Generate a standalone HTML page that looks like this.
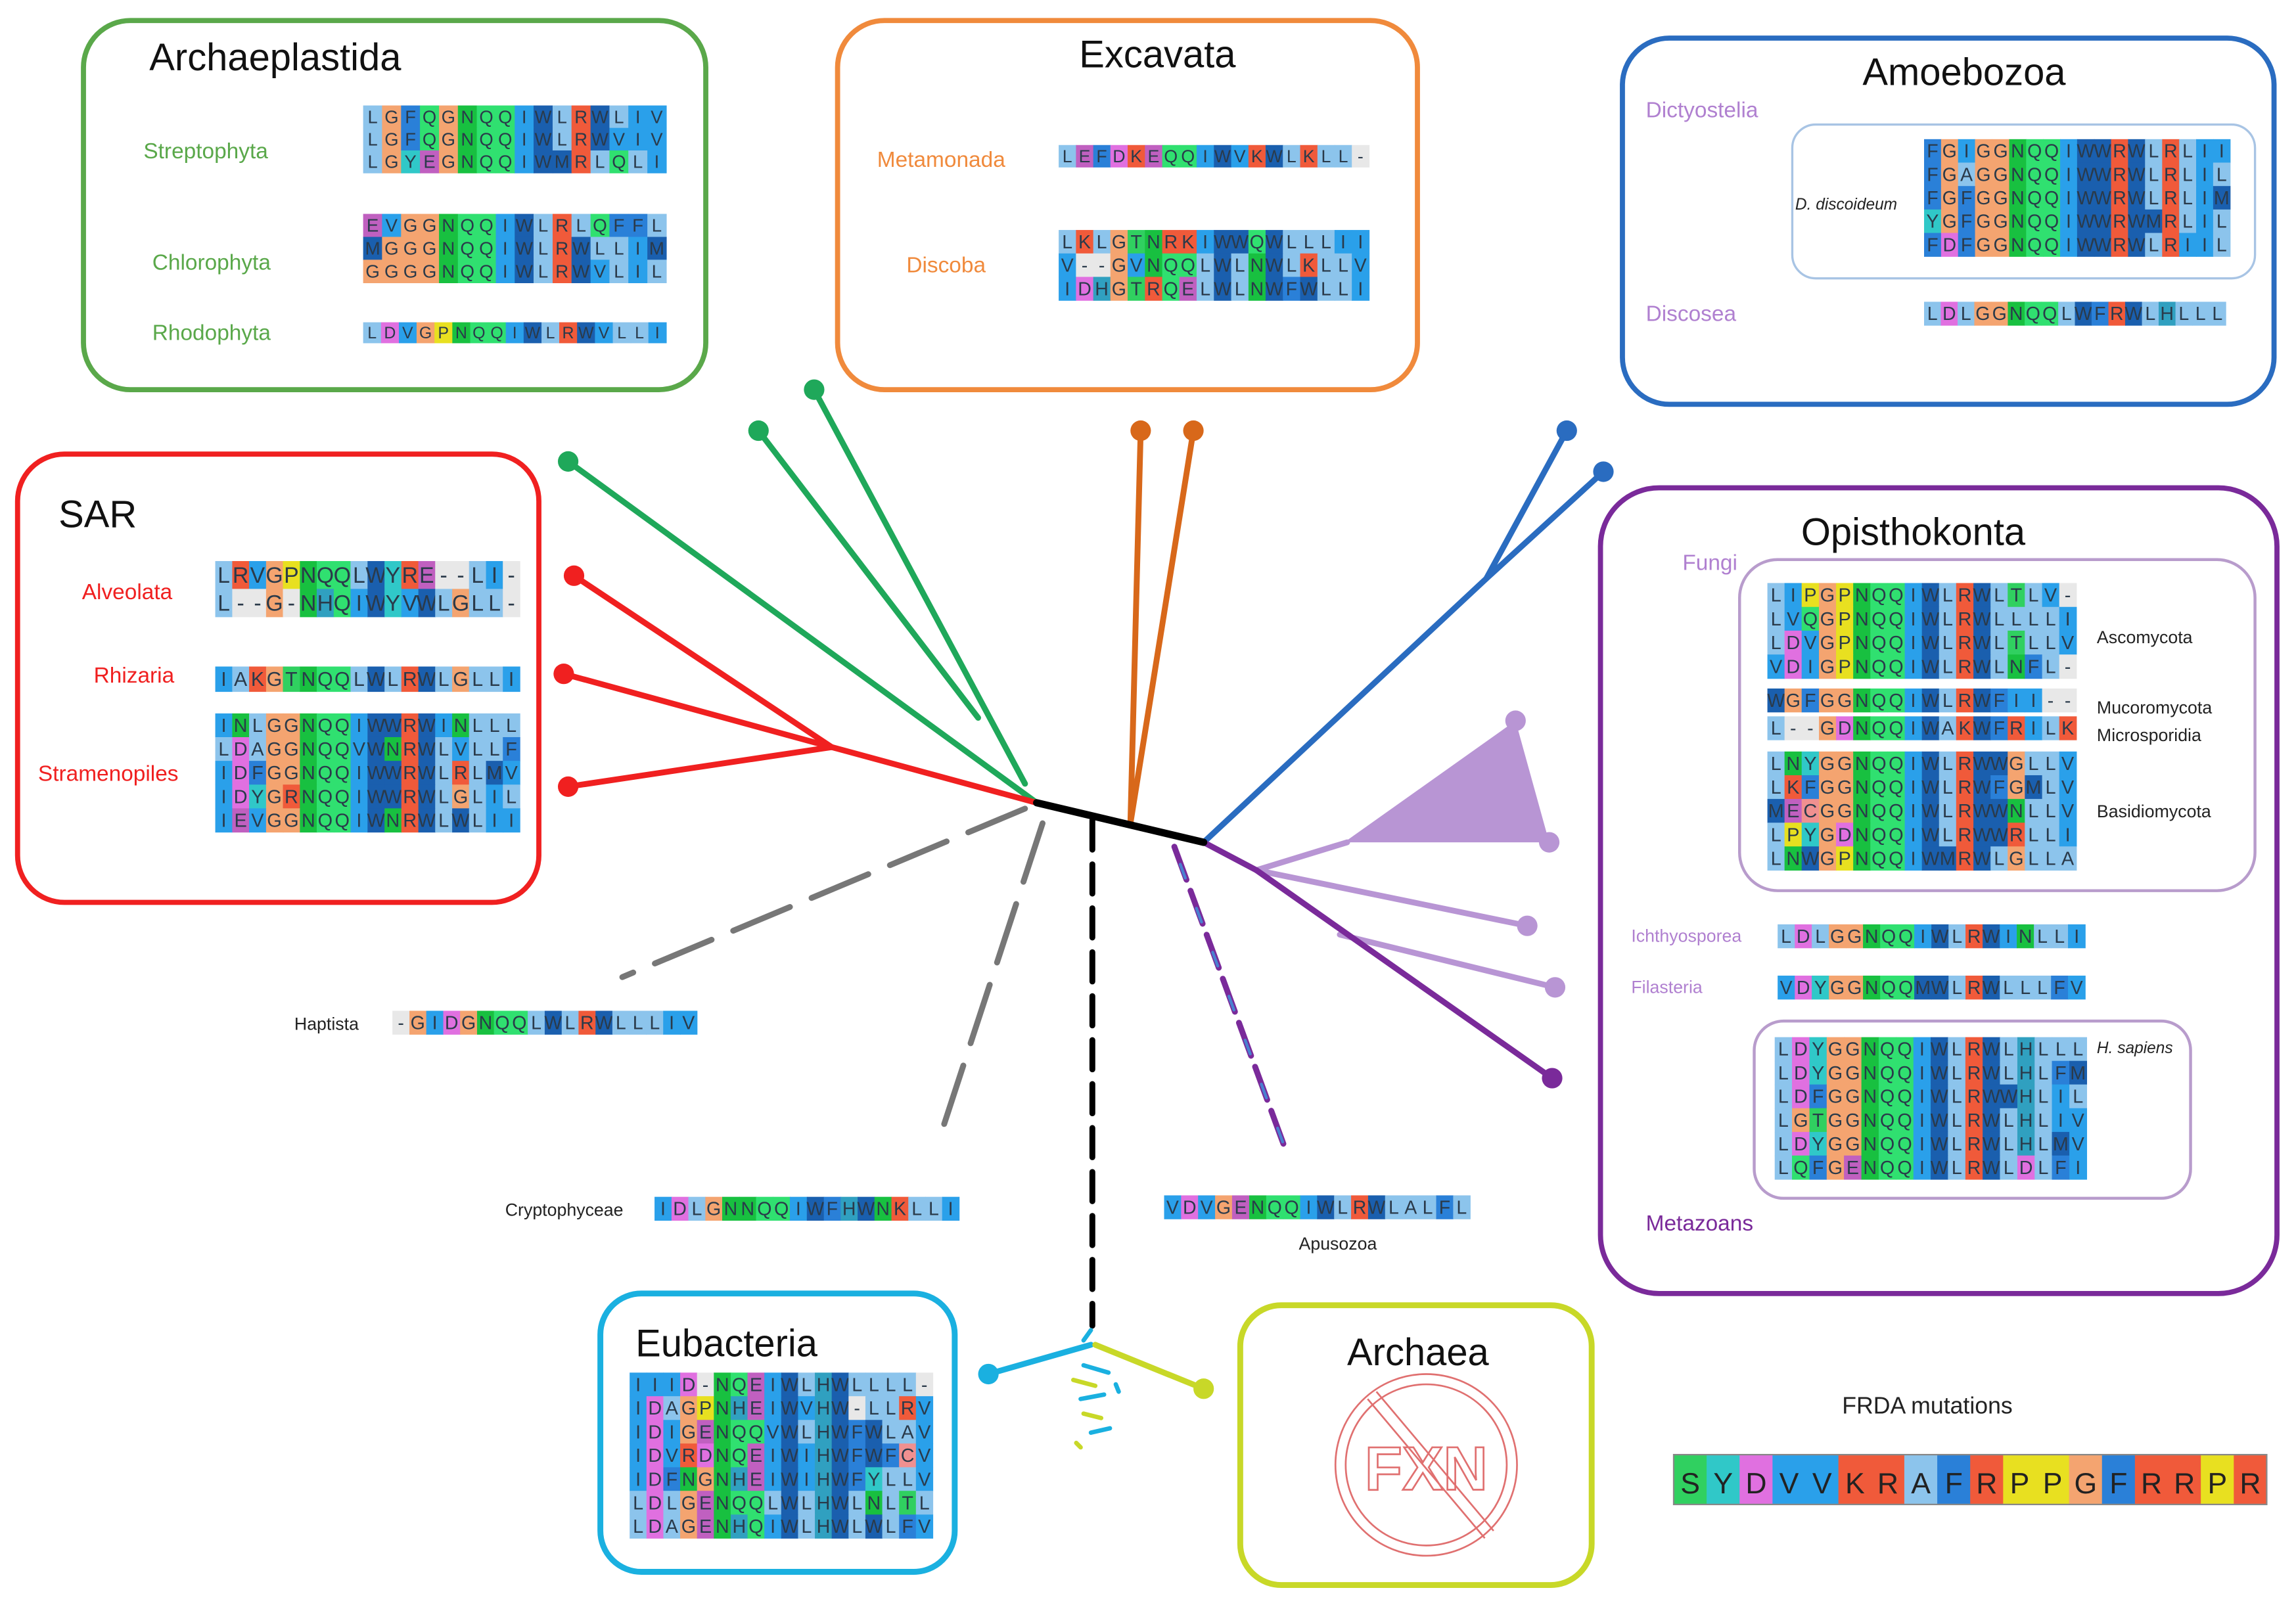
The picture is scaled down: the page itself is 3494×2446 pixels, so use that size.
<!DOCTYPE html>
<html><head><meta charset="utf-8"><style>
html,body{margin:0;padding:0;background:#fff}
svg{display:block}
text{font-family:"Liberation Sans",sans-serif}
</style></head><body>
<svg id="s" width="3494" height="2446" viewBox="0 0 1568 1097" preserveAspectRatio="none" xmlns="http://www.w3.org/2000/svg">
<g fill="none" stroke-width="3.5">
<rect x="57" y="14" width="425" height="252" rx="32" stroke="#5aa84a"/>
<rect x="572" y="14" width="396" height="252" rx="32" stroke="#f08a3c"/>
<rect x="1108" y="26" width="445" height="250" rx="32" stroke="#2a6cc0"/>
<rect x="1224" y="85" width="316" height="105" rx="16" stroke="#a8c4e4" stroke-width="1.5"/>
<rect x="12" y="310" width="356" height="306" rx="32" stroke="#f02020"/>
<rect x="1093" y="333" width="462" height="550" rx="40" stroke="#7a2a9a"/>
<rect x="1188" y="382" width="352" height="226" rx="26" stroke="#b89ccc" stroke-width="2"/>
<rect x="1198" y="697" width="298" height="121" rx="20" stroke="#b89ccc" stroke-width="2"/>
<rect x="410" y="883" width="242" height="190" rx="28" stroke="#1ab0e0" stroke-width="4"/>
<rect x="847" y="891" width="240" height="191" rx="28" stroke="#c8d828" stroke-width="4"/>
</g>
<!-- tree -->
<g stroke-linecap="round" fill="none">
<g stroke="#1fa85a" stroke-width="4"><line x1="708" y1="548" x2="388" y2="315"/><line x1="668" y1="490" x2="518" y2="294"/><line x1="700" y1="535" x2="556" y2="266"/></g>
<g stroke="#f02020" stroke-width="4"><line x1="708" y1="548" x2="568" y2="510"/><line x1="568" y1="510" x2="392" y2="393"/><line x1="568" y1="510" x2="385" y2="460"/><line x1="568" y1="510" x2="388" y2="537"/></g>
<g stroke="#d8681a" stroke-width="4"><line x1="772" y1="562" x2="779" y2="294"/><line x1="772" y1="562" x2="815" y2="294"/></g>
<g stroke="#2a6cc0" stroke-width="4"><line x1="822" y1="575" x2="1015" y2="395"/><line x1="1015" y1="395" x2="1070" y2="294"/><line x1="1015" y1="395" x2="1095" y2="322"/></g>
<g stroke="#b895d4" stroke-width="4"><line x1="858" y1="594" x2="920" y2="575"/><line x1="858" y1="594" x2="1043" y2="632"/><line x1="915" y1="638" x2="1062" y2="674"/></g>
<g stroke="#7a2a9a" stroke-width="4"><line x1="822" y1="575" x2="858" y2="594"/><line x1="858" y1="594" x2="1060" y2="736"/></g>
<line x1="708" y1="548" x2="822" y2="575" stroke="#000" stroke-width="5"/>
<line x1="746" y1="560" x2="746" y2="905" stroke="#000" stroke-width="4" stroke-dasharray="20,10"/>
<line x1="700" y1="552" x2="425" y2="667" stroke="#777" stroke-width="4" stroke-dasharray="42,16"/>
<line x1="712" y1="562" x2="640" y2="782" stroke="#777" stroke-width="4" stroke-dasharray="42,16"/>
<line x1="802" y1="578" x2="878" y2="785" stroke="#7a2a9a" stroke-width="4" stroke-dasharray="24,8"/>
<line x1="806" y1="590" x2="878" y2="785" stroke="#4a80d0" stroke-width="2" stroke-dasharray="10,22"/>
<line x1="745" y1="918" x2="675" y2="938" stroke="#1ab0e0" stroke-width="4"/>
<line x1="748" y1="918" x2="822" y2="948" stroke="#c8d828" stroke-width="4"/>
<g stroke-width="3"><line x1="745" y1="908" x2="740" y2="915" stroke="#1ab0e0"/><line x1="740" y1="932" x2="757" y2="937" stroke="#1ab0e0"/><line x1="733" y1="942" x2="748" y2="946" stroke="#c8d828"/><line x1="738" y1="955" x2="754" y2="952" stroke="#1ab0e0"/><line x1="740" y1="965" x2="752" y2="968" stroke="#c8d828"/><line x1="745" y1="978" x2="758" y2="975" stroke="#1ab0e0"/><line x1="735" y1="985" x2="738" y2="988" stroke="#c8d828"/><line x1="762" y1="945" x2="764" y2="950" stroke="#1ab0e0"/></g>
</g>
<polygon points="918,575 1035,492 1058,575" fill="#b895d4"/>
<g>
<circle cx="388" cy="315" r="7" fill="#1fa85a"/><circle cx="518" cy="294" r="7" fill="#1fa85a"/><circle cx="556" cy="266" r="7" fill="#1fa85a"/>
<circle cx="392" cy="393" r="7" fill="#f02020"/><circle cx="385" cy="460" r="7" fill="#f02020"/><circle cx="388" cy="537" r="7" fill="#f02020"/>
<circle cx="779" cy="294" r="7" fill="#d8681a"/><circle cx="815" cy="294" r="7" fill="#d8681a"/>
<circle cx="1070" cy="294" r="7" fill="#2a6cc0"/><circle cx="1095" cy="322" r="7" fill="#2a6cc0"/>
<circle cx="1035" cy="492" r="7" fill="#b895d4"/><circle cx="1058" cy="575" r="7" fill="#b895d4"/><circle cx="1043" cy="632" r="7" fill="#b895d4"/><circle cx="1062" cy="674" r="7" fill="#b895d4"/><circle cx="1060" cy="736" r="7" fill="#7a2a9a"/>
<circle cx="675" cy="938" r="7" fill="#1ab0e0"/><circle cx="822" cy="948" r="7" fill="#c8d828"/>
</g>
<!-- archaea no symbol -->
<g fill="none" stroke="#e07070" stroke-width="1.2">
<circle cx="974" cy="1000" r="62"/><circle cx="974" cy="1000" r="55"/>
<line x1="934" y1="955" x2="1014" y2="1050"/><line x1="940" y1="950" x2="1020" y2="1045"/>
</g>
<text x="974" y="1017" text-anchor="middle" font-size="42" font-weight="bold" fill="none" stroke="#e07070" stroke-width="1.2">FXN</text>
<!-- titles -->
<g font-size="26" fill="#111">
<text x="102" y="48">Archaeplastida</text>
<text x="737" y="46">Excavata</text>
<text x="1272" y="58">Amoebozoa</text>
<text x="40" y="360">SAR</text>
<text x="1230" y="372">Opisthokonta</text>
<text x="434" y="926">Eubacteria</text>
<text x="920" y="932">Archaea</text>
</g>
<g font-size="15">
<text x="98" y="108" fill="#5aa84a">Streptophyta</text>
<text x="104" y="184" fill="#5aa84a">Chlorophyta</text>
<text x="104" y="232" fill="#5aa84a">Rhodophyta</text>
<text x="599" y="114" fill="#f08a3c">Metamonada</text>
<text x="619" y="186" fill="#f08a3c">Discoba</text>
<text x="1124" y="80" fill="#b080d0">Dictyostelia</text>
<text x="1124" y="219" fill="#b080d0">Discosea</text>
<text x="56" y="409" fill="#f02020">Alveolata</text>
<text x="64" y="466" fill="#f02020">Rhizaria</text>
<text x="26" y="533" fill="#f02020">Stramenopiles</text>
<text x="1149" y="389" fill="#b080d0">Fungi</text>
<text x="1124" y="840" fill="#7a2a9a">Metazoans</text>
</g>
<g font-size="12" fill="#222">
<text x="1226" y="143" font-style="italic" font-size="11">D. discoideum</text>
<text x="1432" y="439">Ascomycota</text>
<text x="1432" y="487">Mucoromycota</text>
<text x="1432" y="506">Microsporidia</text>
<text x="1432" y="558">Basidiomycota</text>
<text x="1114" y="643" fill="#b080d0">Ichthyosporea</text>
<text x="1114" y="678" fill="#b080d0">Filasteria</text>
<text x="1432" y="719" font-style="italic" font-size="11">H. sapiens</text>
<text x="201" y="703">Haptista</text>
<text x="345" y="830">Cryptophyceae</text>
<text x="887" y="853">Apusozoa</text>
<text x="1258" y="965" font-size="16">FRDA mutations</text>
</g>
<g id="al"></g>
</svg>
<script>
var C={L:"#8cc4ec",A:"#8cc4ec",I:"#2aa0ea",V:"#2aa0ea",F:"#2a80d8",M:"#1a5fae",W:"#1a5fae",N:"#18c040",Q:"#30e070",G:"#f4a470",P:"#e8e020",D:"#e070e0",E:"#c060c0",K:"#f05a3a",R:"#f05a3a",Y:"#30c8c8",H:"#30a0c0",T:"#30d060",S:"#30d060",C:"#f09090","-":"#e8e8e8"};
var B=[
[248,72,455,118,["LGFQGNQQIWLRWLIV","LGFQGNQQIWLRWVIV","LGYEGNQQIWMRLQLI"]],
[248,146,455,193,["EVGGNQQIWLRLQFFL","MGGGNQQIWLRWLLIM","GGGGNQQIWLRWVLIL"]],
[248,220,455,234,["LDVGPNQQIWLRWVLLI"]],
[723,99,935,114,["LEFDKEQQIWVKWLKLL-"]],
[723,157,935,205,["LKLGTNRKIWWQWLLLII","V--GVNQQLWLNWLKLLV","IDHGTRQELWLNWFWLLI"]],
[1314,95,1523,175,["FGIGGNQQIWWRWLRLII","FGAGGNQQIWWRWLRLIL","FGFGGNQQIWWRWLRLIM","YGFGGNQQIWWRWMRLIL","FDFGGNQQIWWRWLRIIL"]],
[1314,206,1520,222,["LDLGGNQQLWFRWLHLLL"]],
[147,383,355,421,["LRVGPNQQLWYRE--LI-","L--G-NHQIWYVWLGLL-"]],
[147,455,355,472,["IAKGTNQQLWLRWLGLLI"]],
[147,487,355,568,["INLGGNQQIWWRWINLLL","LDAGGNQQVWNRWLVLLF","IDFGGNQQIWWRWLRLMV","IDYGRNQQIWWRWLGLIL","IEVGGNQQIWNRWLWLII"]],
[1207,398,1418,463,["LIPGPNQQIWLRWLTLV-","LVQGPNQQIWLRWLLLLI","LDVGPNQQIWLRWLTLLV","VDIGPNQQIWLRWLNFL-"]],
[1207,470,1418,486,["WGFGGNQQIWLRWFII--"]],
[1207,489,1418,505,["L--GDNQQIWAKWFRILK"]],
[1207,513,1418,594,["LNYGGNQQIWLRWWGLLV","LKFGGNQQIWLRWFGMLV","MECGGNQQIWLRWWNLLV","LPYGDNQQIWLRWWRLLI","LNWGPNQQIWMRWLGLLA"]],
[1214,631,1424,647,["LDLGGNQQIWLRWINLLI"]],
[1214,666,1424,682,["VDYGGNQQMWLRWLLLFV"]],
[1212,708,1425,805,["LDYGGNQQIWLRWLHLLL","LDYGGNQQIWLRWLHLFM","LDFGGNQQIWLRWWHLIL","LGTGGNQQIWLRWLHLIV","LDYGGNQQIWLRWLHLMV","LQFGENQQIWLRWLDLFI"]],
[268,690,476,706,["-GIDGNQQLWLRWLLLIV"]],
[447,817,655,833,["IDLGNNQQIWFHWNKLLI"]],
[795,816,1004,832,["VDVGENQQIWLRWLALFL"]],
[430,937,637,1050,["IIID-NQEIWLHWLLLL-","IDAGPNHEIWVHW-LLRV","IDIGENQQVWLHWFWLAV","IDVRDNQEIWIHWFWFCV","IDFNGNHEIWIHWFYLLV","LDLGENQQLWLHWLNLTL","LDAGENHQIWLHWLWLFV"]],
[1143,993,1548,1027,["SYDVVKRAFRPPGFRRPR"],1]
];
var g=document.getElementById("al"),h="";
B.forEach(function(b){var rows=b[4],n=rows[0].length,cw=(b[2]-b[0])/n,ch=(b[3]-b[1])/rows.length,big=b[5];
rows.forEach(function(r,i){for(var j=0;j<r.length;j++){var c=r[j],x=b[0]+j*cw,y=b[1]+i*ch;
h+='<rect x="'+x.toFixed(1)+'" y="'+y.toFixed(1)+'" width="'+(cw+0.3).toFixed(1)+'" height="'+(ch+0.3).toFixed(1)+'" fill="'+(C[c]||"#8cc4ec")+'"/>';
h+='<text x="'+(x+cw/2).toFixed(1)+'" y="'+(y+ch*0.78).toFixed(1)+'" text-anchor="middle" font-family="Liberation Mono" font-size="'+(big?20:ch*0.8).toFixed(1)+'" fill="'+(big?"#222":"#2a3a4a")+'">'+c+'</text>';}});
if(big)h+='<rect x="'+b[0]+'" y="'+b[1]+'" width="'+(b[2]-b[0])+'" height="'+(b[3]-b[1])+'" fill="none" stroke="#888" stroke-width="1"/>';});
g.innerHTML=h;
</script>
</body></html>
